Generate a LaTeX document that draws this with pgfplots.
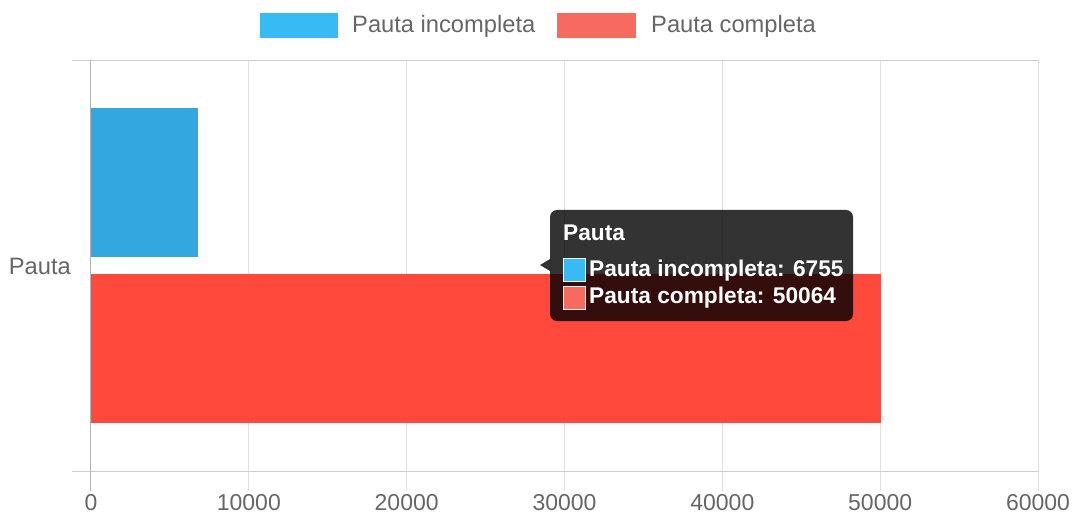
\documentclass[border=0pt]{standalone}
\usepackage{pgfplots}
\pgfplotsset{compat=1.18}
\usepackage{fontspec}
\setmainfont{Liberation Sans}
\definecolor{txt}{HTML}{666666}
\definecolor{barblue}{RGB}{51,168,224}
\definecolor{barred}{RGB}{255,73,60}
\definecolor{legblue}{RGB}{56,187,245}
\definecolor{legred}{RGB}{246,106,96}
\definecolor{gridc}{HTML}{E0E0E0}
\definecolor{axc}{HTML}{CDCDCD}
\definecolor{zeroc}{HTML}{B4B4B4}
\begin{document}
\begin{tikzpicture}[x=1pt,y=1pt]
\useasboundingbox (0,0) rectangle (1074,515);
\begin{axis}[
  at={(91pt,44pt)}, anchor=south west,
  width=947pt, height=411pt, scale only axis,
  xmin=0, xmax=60000, ymin=-0.5, ymax=0.5,
  xtick={0,10000,20000,30000,40000,50000,60000},
  ytick=\empty,
  xmajorgrids, grid style={gridc, line width=1pt},
  axis line style={draw=none},
  xtick pos=bottom, tick align=outside, major tick length=20pt,
  tick style={gridc, line width=1pt},
  xticklabel style={font=\fontsize{23}{26}\selectfont, text=txt, inner sep=0pt, anchor=base, yshift=-19.5pt},
  scaled x ticks=false,
  /pgf/number format/assume math mode=true,
  xticklabel={\pgfmathprintnumber[fixed,1000 sep={},assume math mode=true]{\tick}},
  clip=false,
]
\addplot[xbar, bar width=0.362, bar shift=0pt, fill=barblue, draw=none] coordinates {(6755,0.202)};
\addplot[xbar, bar width=0.362, bar shift=0pt, fill=barred, draw=none] coordinates {(50064,-0.202)};
\draw[axc, line width=1pt] ([xshift=-19pt]axis cs:0,0.5) -- (axis cs:60000,0.5);
\draw[axc, line width=1pt] ([xshift=-19pt]axis cs:0,-0.5) -- (axis cs:60000,-0.5);
\draw[zeroc, line width=1pt] (axis cs:0,0.5) -- ([yshift=-20pt]axis cs:0,-0.5);
\node[anchor=base east, font=\fontsize{23.7}{28}\selectfont, text=txt, inner sep=0pt] at ([xshift=-20pt,yshift=-8.5pt]axis cs:0,0) {Pauta};
\end{axis}
% legend
\fill[legblue] (260,477) rectangle (338,502);
\node[anchor=base west, font=\fontsize{23.7}{28}\selectfont, text=txt, inner sep=0pt] at (352,482) {Pauta incompleta};
\fill[legred] (557,477) rectangle (636,502);
\node[anchor=base west, font=\fontsize{23.7}{28}\selectfont, text=txt, inner sep=0pt] at (651,482) {Pauta completa};
% tooltip
\fill[black, opacity=0.8, rounded corners=7pt] (550,194) rectangle (853,305);
\fill[black, opacity=0.8] (550,256) -- (540,250) -- (550,244) -- cycle;
\node[anchor=base west, font=\fontsize{22.7}{26}\selectfont\bfseries, text=white, inner sep=0pt] at (563,275) {Pauta};
\draw[white, line width=1pt, fill=legblue] (563,234) rectangle (585,257);
\node[anchor=base west, font=\fontsize{22.7}{26}\selectfont\bfseries, text=white, inner sep=0pt] at (589,239) {Pauta incompleta: 6755};
\draw[white, line width=1pt, fill=legred] (563,206) rectangle (585,229);
\node[anchor=base west, font=\fontsize{22.7}{26}\selectfont\bfseries, text=white, inner sep=0pt] at (589,212) {Pauta completa: 50064};
\end{tikzpicture}
\end{document}
